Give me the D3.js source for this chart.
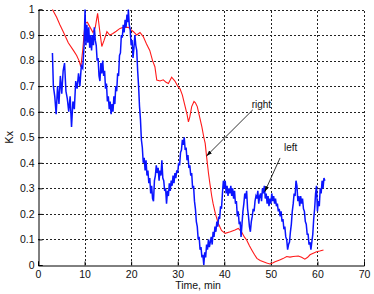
<!DOCTYPE html>
<html><head><meta charset="utf-8">
<script src="https://cdn.jsdelivr.net/npm/d3@7"></script>
<style>html,body{margin:0;padding:0;background:#fff;}svg{display:block;}</style>
</head><body>
<script>
// ---- data ----
const xTicks = [0,10,20,30,40,50,60,70];
const yTicks = [0,0.1,0.2,0.3,0.4,0.5,0.6,0.7,0.8,0.9,1];
const xLabel = "Time, min";
const yLabel = "Kx";
// "right" series (red)
const rightT = [3.1,4.0,4.7,5.5,6.5,7.6,8.3,8.8,9.2,9.6,10.1,10.6,11.2,11.8,12.3,12.8,13.3,13.7,14.2,14.8,15.4,16.0,16.8,17.6,18.3,19.4,20.0,20.5,21.2,21.9,22.6,23.3,24.0,24.6,25.1,25.5,26.2,26.9,27.5,28.0,28.7,29.4,30.0,30.5,31.0,31.6,32.0,32.3,32.6,33.0,33.5,33.8,34.2,34.7,35.2,35.6,35.9,36.2,36.6,36.9,37.3,37.6,38.1,38.7,39.4,40.2,41.3,42.3,43.0,43.7,44.3,44.8,45.4,45.9,46.5,47.0,47.7,48.4,49.1,49.8,50.4,50.9,51.9,52.6,53.4,54.1,54.8,55.9,56.6,57.3,57.9,58.4,59.1,59.8,60.5,61.3];
const rightV = [1.0,0.97,0.94,0.91,0.87,0.84,0.82,0.80,0.776,0.84,0.946,0.95,0.93,0.91,0.93,0.985,0.91,0.855,0.88,0.913,0.90,0.905,0.915,0.926,0.93,0.93,0.92,0.913,0.90,0.91,0.894,0.865,0.84,0.80,0.776,0.724,0.72,0.725,0.715,0.71,0.735,0.72,0.70,0.69,0.665,0.62,0.59,0.56,0.58,0.62,0.64,0.635,0.62,0.58,0.54,0.50,0.476,0.424,0.36,0.32,0.27,0.24,0.20,0.163,0.135,0.124,0.13,0.137,0.143,0.13,0.11,0.098,0.075,0.059,0.04,0.026,0.018,0.013,0.008,0.004,0.008,0.013,0.02,0.025,0.033,0.031,0.033,0.035,0.03,0.023,0.03,0.04,0.046,0.052,0.055,0.059];
// "left" series (blue)
const leftT = [3.1,3.3,3.6,3.9,4.2,4.5,4.8,5.1,5.4,5.7,6.0,6.3,6.6,6.9,7.2,7.5,7.8,8.1,8.4,8.7,9.0,9.3,9.6,9.9,10.1,10.3,10.5,10.7,10.9,11.1,11.3,11.5,11.7,11.9,12.1,12.3,12.5,12.7,12.9,13.1,13.3,13.5,13.7,13.9,14.1,14.3,14.5,14.7,14.9,15.1,15.3,15.5,15.7,15.9,16.1,16.3,16.5,16.7,16.9,17.1,17.3,17.5,17.7,17.9,18.1,18.3,18.5,18.7,18.9,19.1,19.3,19.4,19.6,19.8,20.0,20.2,20.4,20.6,20.8,21.0,21.2,21.4,21.6,21.8,22.0,22.2,22.4,22.6,22.8,23.0,23.2,23.4,23.6,23.8,24.0,24.2,24.4,24.6,24.8,25.0,25.2,25.4,25.6,25.8,26.0,26.2,26.4,26.6,26.8,27.0,27.2,27.4,27.6,27.8,28.0,28.2,28.4,28.6,28.8,29.0,29.2,29.4,29.6,29.8,30.0,30.2,30.4,30.6,30.8,31.0,31.2,31.4,31.6,31.8,32.0,32.2,32.4,32.6,32.8,33.0,33.2,33.4,33.6,33.8,34.0,34.2,34.4,34.6,34.8,35.0,35.2,35.4,35.6,35.8,36.0,36.2,36.4,36.6,36.8,37.0,37.2,37.4,37.6,37.8,38.0,38.2,38.4,38.6,38.8,39.0,39.2,39.4,39.6,39.8,40.0,40.2,40.4,40.6,40.8,41.0,41.2,41.4,41.6,41.8,42.0,42.2,42.4,42.6,42.8,43.0,43.2,43.4,43.6,43.8,44.0,44.2,44.4,44.6,44.8,45.0,45.2,45.4,45.6,45.8,46.0,46.2,46.4,46.6,46.8,47.0,47.2,47.4,47.6,47.8,48.0,48.2,48.4,48.6,48.8,49.0,49.2,49.4,49.6,49.8,50.0,50.2,50.4,50.6,50.8,51.0,51.2,51.4,51.6,51.8,52.0,52.2,52.4,52.6,52.8,53.0,53.2,53.4,53.6,53.8,54.0,54.2,54.4,54.6,54.8,55.0,55.2,55.4,55.6,55.8,56.0,56.2,56.4,56.6,56.8,57.0,57.2,57.4,57.6,57.8,58.0,58.2,58.4,58.6,58.8,59.0,59.2,59.4,59.6,59.8,60.0,60.2,60.4,60.6,60.8,61.0,61.2,61.4,61.6];
const leftV = [0.83,0.70,0.66,0.59,0.70,0.63,0.74,0.67,0.76,0.79,0.68,0.65,0.60,0.66,0.54,0.64,0.61,0.72,0.69,0.75,0.70,0.78,0.77,0.86,1.0,0.86,0.94,0.87,0.93,0.85,0.90,0.84,0.90,0.86,0.93,0.88,0.86,0.80,0.81,0.74,0.72,0.79,0.75,0.80,0.74,0.76,0.69,0.71,0.64,0.66,0.61,0.64,0.59,0.63,0.60,0.66,0.63,0.70,0.68,0.75,0.74,0.82,0.83,0.90,0.89,0.94,0.91,0.96,0.93,0.98,0.95,1.0,0.94,0.92,0.86,0.88,0.81,0.85,0.90,0.86,0.84,0.76,0.70,0.62,0.57,0.49,0.46,0.40,0.42,0.37,0.41,0.35,0.37,0.32,0.34,0.28,0.31,0.26,0.25,0.33,0.35,0.39,0.36,0.38,0.33,0.37,0.35,0.41,0.34,0.33,0.29,0.30,0.24,0.29,0.27,0.32,0.29,0.33,0.31,0.35,0.32,0.36,0.34,0.37,0.36,0.40,0.39,0.44,0.45,0.49,0.47,0.50,0.45,0.46,0.41,0.43,0.38,0.39,0.35,0.36,0.30,0.31,0.25,0.22,0.17,0.15,0.10,0.11,0.06,0.07,0.03,0.04,0.00,0.05,0.03,0.08,0.06,0.10,0.07,0.09,0.11,0.08,0.13,0.11,0.15,0.13,0.17,0.15,0.19,0.18,0.23,0.22,0.28,0.33,0.30,0.33,0.28,0.31,0.27,0.30,0.28,0.31,0.27,0.30,0.26,0.29,0.24,0.25,0.19,0.21,0.16,0.17,0.11,0.16,0.21,0.24,0.28,0.26,0.29,0.22,0.19,0.15,0.13,0.17,0.19,0.22,0.21,0.25,0.27,0.26,0.29,0.24,0.27,0.28,0.25,0.30,0.28,0.31,0.26,0.28,0.24,0.27,0.23,0.26,0.24,0.28,0.25,0.27,0.24,0.26,0.23,0.24,0.21,0.22,0.19,0.21,0.17,0.18,0.14,0.15,0.11,0.10,0.06,0.08,0.09,0.13,0.16,0.21,0.24,0.28,0.27,0.33,0.31,0.25,0.27,0.23,0.27,0.24,0.26,0.22,0.21,0.17,0.16,0.12,0.12,0.08,0.09,0.06,0.09,0.12,0.18,0.22,0.28,0.31,0.21,0.25,0.23,0.30,0.28,0.33,0.30,0.34,0.33];
// annotations: [label, target time, target value, text time, text value]
const notes = [["right",36.2,0.427,46.1,0.607],["left",48.7,0.287,51.97,0.419]];

// ---- chart ----
const W = 374, H = 294;
const m = {left:38, right:10, top:9.5, bottom:29};
const svg = d3.select("body").append("svg").attr("width",W).attr("height",H);
const x = d3.scaleLinear().domain([0,70]).range([m.left, W-m.right]);
const y = d3.scaleLinear().domain([0,1]).range([H-m.bottom, m.top]);
const font = "Arial, 'Liberation Sans', Helvetica, sans-serif";

// grid
const grid = svg.append("g").attr("stroke","#222").attr("stroke-width",1).attr("stroke-dasharray","2,2").attr("shape-rendering","crispEdges");
xTicks.slice(1).forEach(t=>grid.append("line").attr("x1",Math.round(x(t))+0.5).attr("x2",Math.round(x(t))+0.5).attr("y1",y(0)).attr("y2",y(1)));
yTicks.slice(1).forEach(t=>grid.append("line").attr("y1",Math.round(y(t))+0.5).attr("y2",Math.round(y(t))+0.5).attr("x1",x(0)).attr("x2",x(70)));

// axes
const xAxis = svg.append("g").attr("transform",`translate(0,${Math.round(y(0))+0.5})`)
  .call(d3.axisBottom(x).tickValues(xTicks).tickSize(-4).tickPadding(5).tickFormat(d3.format("d")));
const yAxis = svg.append("g").attr("transform",`translate(${Math.round(x(0))+0.5},0)`)
  .call(d3.axisLeft(y).tickValues(yTicks).tickSize(-4).tickPadding(4).tickFormat(d=>d===0||d===1?String(d):d3.format(".1f")(d)));
[xAxis,yAxis].forEach(a=>{
  a.select(".domain").attr("stroke","#000");
  a.selectAll(".tick line").attr("stroke","#000");
  a.selectAll("text").attr("font-family",font).attr("font-size",10.5).attr("fill","#111");
});

// lines
const line = d3.line().x(d=>x(d[0])).y(d=>y(d[1]));
svg.append("path").datum(rightT.map((t,i)=>[t,rightV[i]]))
  .attr("d",line).attr("fill","none").attr("stroke","#ff1a1a").attr("stroke-width",1.1);
svg.append("path").datum(leftT.map((t,i)=>[t,leftV[i]]))
  .attr("d",line).attr("fill","none").attr("stroke","#0a14ff").attr("stroke-width",1.5).attr("stroke-linejoin","miter");

// annotations
const defs = svg.append("defs");
defs.append("marker").attr("id","ah").attr("viewBox","0 0 10 10").attr("refX",10).attr("refY",5)
  .attr("markerWidth",7).attr("markerHeight",7).attr("orient","auto")
  .append("path").attr("d","M0,1.5L10,5L0,8.5Z").attr("fill","#000");
notes.forEach(([lab,t,v,tt,tv],i)=>{
  const tx = x(tt), ty = y(tv);
  svg.append("line").attr("x1",tx).attr("y1",ty).attr("x2",x(t)).attr("y2",y(v))
    .attr("stroke","#000").attr("stroke-width",0.8).attr("marker-end","url(#ah)");
  svg.append("text").attr("x", i===0 ? tx-1 : tx+4).attr("y", i===0 ? ty-1.5 : ty-6.5)
    .attr("font-family",font).attr("font-size",10).attr("fill","#111").text(lab);
});

// labels
svg.append("text").attr("x",198).attr("y",289).attr("text-anchor","middle")
  .attr("font-family",font).attr("font-size",10.5).attr("fill","#111").text(xLabel);
svg.append("text").attr("transform",`translate(13,${(y(0)+y(1))/2}) rotate(-90)`).attr("text-anchor","middle")
  .attr("font-family",font).attr("font-size",10.5).attr("fill","#111").text(yLabel);
</script>
</body></html>
